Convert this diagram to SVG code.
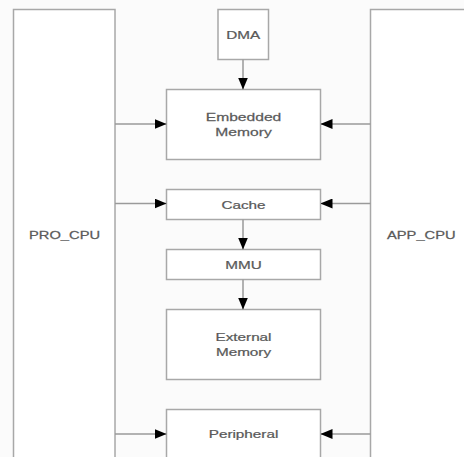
<svg xmlns="http://www.w3.org/2000/svg" width="464" height="457" viewBox="0 0 464 457">
<defs>
<style>
.box{fill:#ffffff;stroke:#a8a8a8;stroke-width:1.5}
.lbl{font-family:"Liberation Sans",Arial,sans-serif;font-size:11.5px;fill:#555;stroke:#666;stroke-width:0.25;text-anchor:middle}
.cpu{font-family:"Liberation Sans",Arial,sans-serif;font-size:11.5px;fill:#555;stroke:#666;stroke-width:0.25}
.con{stroke:#9a9a9a;stroke-width:1.5;fill:none}
</style>
<marker id="ah" viewBox="0 0 12 10" refX="12" refY="5" markerWidth="12" markerHeight="10" markerUnits="userSpaceOnUse" orient="auto">
<path d="M0,0 L12,5 L0,10 Z" fill="#000"/>
</marker>
</defs>
<rect width="464" height="457" fill="#fbfbfb"/>
<g id="pro_cpu"><rect class="box" x="13.5" y="9.5" width="101.5" height="460"/><text class="cpu" transform="translate(29 238.5) scale(1.28 1)">PRO_CPU</text></g>
<g id="app_cpu"><rect class="box" x="370.5" y="9.5" width="120" height="460"/><text class="cpu" transform="translate(387 238.5) scale(1.28 1)">APP_CPU</text></g>
<g id="dma"><rect class="box" x="218" y="9.5" width="50.5" height="50"/><text class="lbl" transform="translate(243.3 39) scale(1.33 1)">DMA</text></g>
<g id="embedded"><rect class="box" x="166.5" y="89.5" width="154" height="70"/><text class="lbl" transform="translate(243.5 120.8) scale(1.36 1)">Embedded</text><text class="lbl" transform="translate(243.5 135.6) scale(1.36 1)">Memory</text></g>
<g id="cache"><rect class="box" x="166.5" y="189.5" width="154" height="30"/><text class="lbl" transform="translate(243.5 208.8) scale(1.33 1)">Cache</text></g>
<g id="mmu"><rect class="box" x="166.5" y="249.5" width="154" height="30"/><text class="lbl" transform="translate(243.5 268.8) scale(1.33 1)">MMU</text></g>
<g id="external"><rect class="box" x="166.5" y="309.5" width="154" height="70"/><text class="lbl" transform="translate(243.5 340.8) scale(1.33 1)">External</text><text class="lbl" transform="translate(243.5 355.6) scale(1.33 1)">Memory</text></g>
<g id="peripheral"><rect class="box" x="166.5" y="409.5" width="154" height="60"/><text class="lbl" transform="translate(243.5 438) scale(1.33 1)">Peripheral</text></g>
<g id="connectors">
<line class="con" x1="243" y1="59.5" x2="243" y2="89.5" marker-end="url(#ah)"/>
<line class="con" x1="115" y1="124" x2="166.5" y2="124" marker-end="url(#ah)"/>
<line class="con" x1="370.5" y1="124" x2="320.5" y2="124" marker-end="url(#ah)"/>
<line class="con" x1="115" y1="203.5" x2="166.5" y2="203.5" marker-end="url(#ah)"/>
<line class="con" x1="370.5" y1="203.5" x2="320.5" y2="203.5" marker-end="url(#ah)"/>
<line class="con" x1="243" y1="219.5" x2="243" y2="249.5" marker-end="url(#ah)"/>
<line class="con" x1="243" y1="279.5" x2="243" y2="309.5" marker-end="url(#ah)"/>
<line class="con" x1="115" y1="434" x2="166.5" y2="434" marker-end="url(#ah)"/>
<line class="con" x1="370.5" y1="434" x2="320.5" y2="434" marker-end="url(#ah)"/>
</g>
</svg>
